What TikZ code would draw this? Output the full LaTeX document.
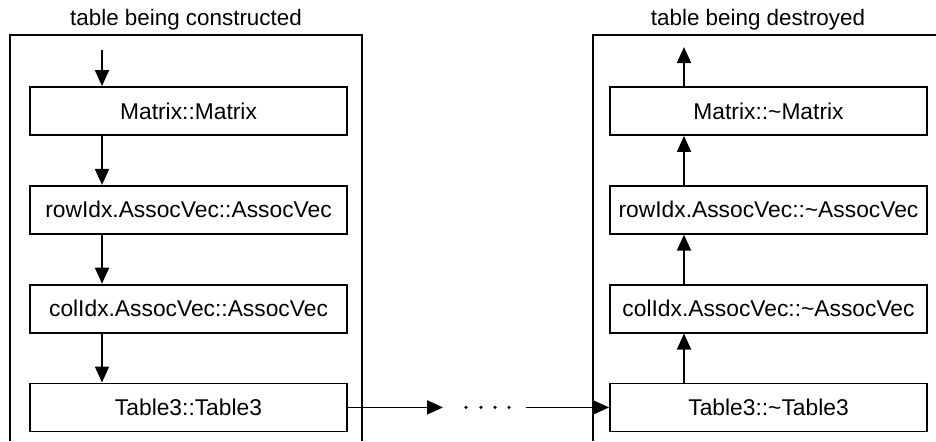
\documentclass[tikz,border=0pt]{standalone}
\usepackage{fontspec}
\setmainfont{Liberation Sans}
\usetikzlibrary{arrows.meta, positioning, calc}

\tikzset{
  fn/.style={draw, line width=0.9pt, minimum width=158.5pt, minimum height=24pt, inner sep=0pt, font=\fontsize{11.4}{13}\selectfont},
  call/.style={line width=0.9pt, -{Triangle[length=8pt,width=7pt]}},
  frame/.style={line width=0.9pt},
  title/.style={font=\fontsize{11.2}{13}\selectfont}
}

\begin{document}
\begin{tikzpicture}[x=0.5pt,y=-0.5pt]
    \useasboundingbox (0,0) rectangle (936,441);
    % frames
    \draw[frame] (10,441) -- (10,35) -- (362,35) -- (362,441);
    \draw[frame] (593,441) -- (593,35) -- (936,35);
    \node[title] (tc) at (186,20) {table being constructed};
    \node[title] (td) at (758,20) {table being destroyed};

    % constructor chain
    \node[fn] (C1) at (188.5,111) {Matrix::Matrix};
    \node[fn, below=24.5pt of C1] (C2) {rowIdx.AssocVec::AssocVec};
    \node[fn, below=24.5pt of C2] (C3) {colIdx.AssocVec::AssocVec};
    \node[fn, below=24.5pt of C3] (C4) {Table3::Table3};

    % destructor chain
    \node[fn] (D1) at (768.5,111) {Matrix::\char`\~Matrix};
    \node[fn, below=24.5pt of D1] (D2) {rowIdx.AssocVec::\char`\~AssocVec};
    \node[fn, below=24.5pt of D2] (D3) {colIdx.AssocVec::\char`\~AssocVec};
    \node[fn, below=24.5pt of D3] (D4) {Table3::\char`\~Table3};

    \coordinate (lx) at (102,0);
    \coordinate (rx) at (684,0);
    \coordinate (in) at (102,50);
    \coordinate (out) at (684,47);
    \coordinate (g1) at (443,0);
    \coordinate (g2) at (526,0);

    \draw[call] (in) -- (C1.north -| lx);
    \draw[call] (C1.south -| lx) -- (C2.north -| lx);
    \draw[call] (C2.south -| lx) -- (C3.north -| lx);
    \draw[call] (C3.south -| lx) -- (C4.north -| lx);

    \draw[call] (D4.north -| rx) -- (D3.south -| rx);
    \draw[call] (D3.north -| rx) -- (D2.south -| rx);
    \draw[call] (D2.north -| rx) -- (D1.south -| rx);
    \draw[call] (D1.north -| rx) -- (out);

    \draw[call] (C4.east) -- (C4.east -| g1);
    \foreach \x in {466,481,495,509}
        \fill (C4.center -| \x,0) circle (0.9pt);
    \draw[call] (C4.east -| g2) -- (D4.west);
\end{tikzpicture}
\end{document}
